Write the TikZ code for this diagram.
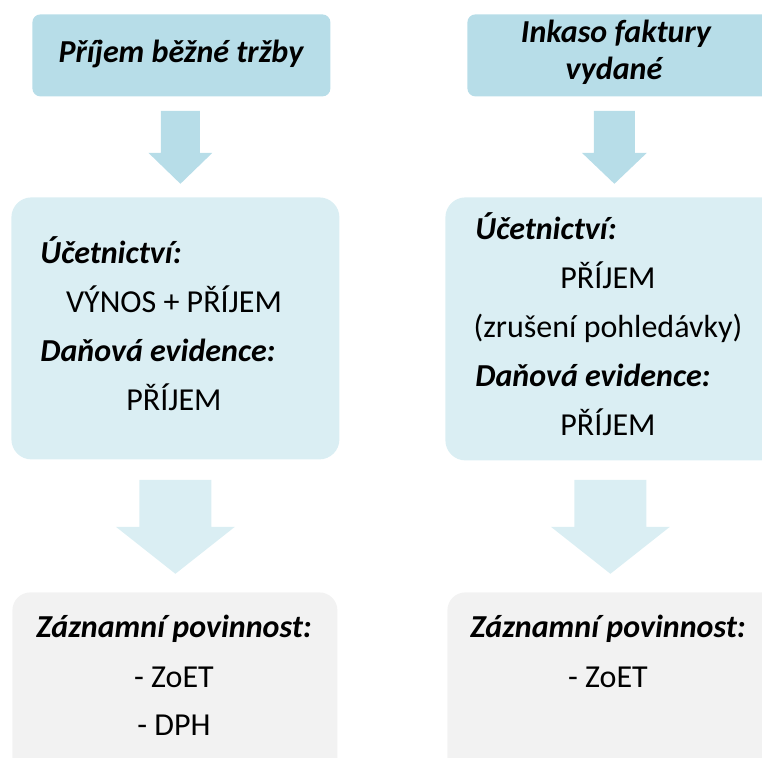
\documentclass[tikz,border=0pt]{standalone}
\usepackage{fontspec}
\setmainfont{Carlito}
\usetikzlibrary{calc}
\definecolor{hlava}{HTML}{B7DDE8}
\definecolor{stred}{HTML}{DAEEF3}
\definecolor{spodek}{HTML}{F2F2F2}
% block arrow: colour, top centre, shaft half, head half, shaft length, head length
\newcommand{\sipka}[6]{\fill[#1] ($(#2)+(-#3,0)$) -- ($(#2)+(#3,0)$) -- ($(#2)+(#3,#5)$)
  -- ($(#2)+(#4,#5)$) -- ($(#2)+(0,#5+#6)$) -- ($(#2)+(-#4,#5)$) -- ($(#2)+(-#3,#5)$) -- cycle;}
\begin{document}
\begin{tikzpicture}[x=0.5pt,y=-0.5pt,
    box/.style={inner sep=0pt, anchor=north west},
    txt/.style={inner sep=0pt, anchor=base, font=\fontsize{16}{19}\selectfont},
    tit/.style={inner sep=0pt, anchor=base, font=\bfseries\itshape\fontsize{16}{19}\selectfont},
    hl/.style={inner sep=0pt, anchor=base west, font=\bfseries\itshape\fontsize{16}{19}\selectfont}]
  \useasboundingbox (0,0) rectangle (762,758);
  \clip (0,0) rectangle (762,758);

  % boxes
  \node[box, fill=hlava, rounded corners=4pt, minimum width=149pt, minimum height=41pt] (a1) at (32,14) {};
  \node[box, fill=hlava, rounded corners=4pt, minimum width=160pt, minimum height=41pt] (b1) at (467,14) {};
  \node[box, fill=stred, rounded corners=10pt, minimum width=164pt, minimum height=131pt] (a2) at (11,197) {};
  \node[box, fill=stred, rounded corners=10pt, minimum width=170pt, minimum height=131.5pt] (b2) at (445,197) {};
  \node[box, fill=spodek, rounded corners=9pt, minimum width=162.5pt, minimum height=110pt] (a3) at (12,592) {};
  \node[box, fill=spodek, rounded corners=9pt, minimum width=175pt, minimum height=110pt] (b3) at (447,592) {};

  % arrows
  \coordinate (s1) at ($(a1.south)+(-1,14)$);
  \coordinate (s2) at ($(b1.south)+(-13,14)$);
  \coordinate (s3) at ($(a2.south)+(0,20)$);
  \coordinate (s4) at ($(b2.south)+(-5,19)$);
  \sipka{hlava}{s1}{19.5}{32}{42}{31}
  \sipka{hlava}{s2}{20.5}{32.5}{42}{31}
  \sipka{stred}{s3}{36}{59.5}{47}{47}
  \sipka{stred}{s4}{36}{59.5}{47}{47}

  % texts
  \node[tit] (a1t) at (181,63) {Příjem běžné tržby};
  \node[tit] (b1t) at (616,43) {Inkaso faktury};
  \node[tit] (b1u) at (614,80) {vydané};

  \node[hl] (a2u) at (40,264) {Účetnictví:};
  \node[txt] (a2v) at (174,313) {VÝNOS + PŘÍJEM};
  \node[hl] (a2d) at (40,362) {Daňová evidence:};
  \node[txt] (a2p) at (174,411) {PŘÍJEM};

  \node[hl] (b2u) at (475,240) {Účetnictví:};
  \node[txt] (b2v) at (608,289) {PŘÍJEM};
  \node[txt] (b2z) at (608,338) {(zrušení pohledávky)};
  \node[hl] (b2d) at (475,387) {Daňová evidence:};
  \node[txt] (b2p) at (608,436) {PŘÍJEM};

  \node[tit] (a3z) at (174,638) {Záznamní povinnost:};
  \node[txt] (a3e) at (174,688) {- ZoET};
  \node[txt] (a3d) at (174,736) {- DPH};

  \node[tit] (b3z) at (608,638) {Záznamní povinnost:};
  \node[txt] (b3e) at (608,688) {- ZoET};
\end{tikzpicture}
\end{document}
